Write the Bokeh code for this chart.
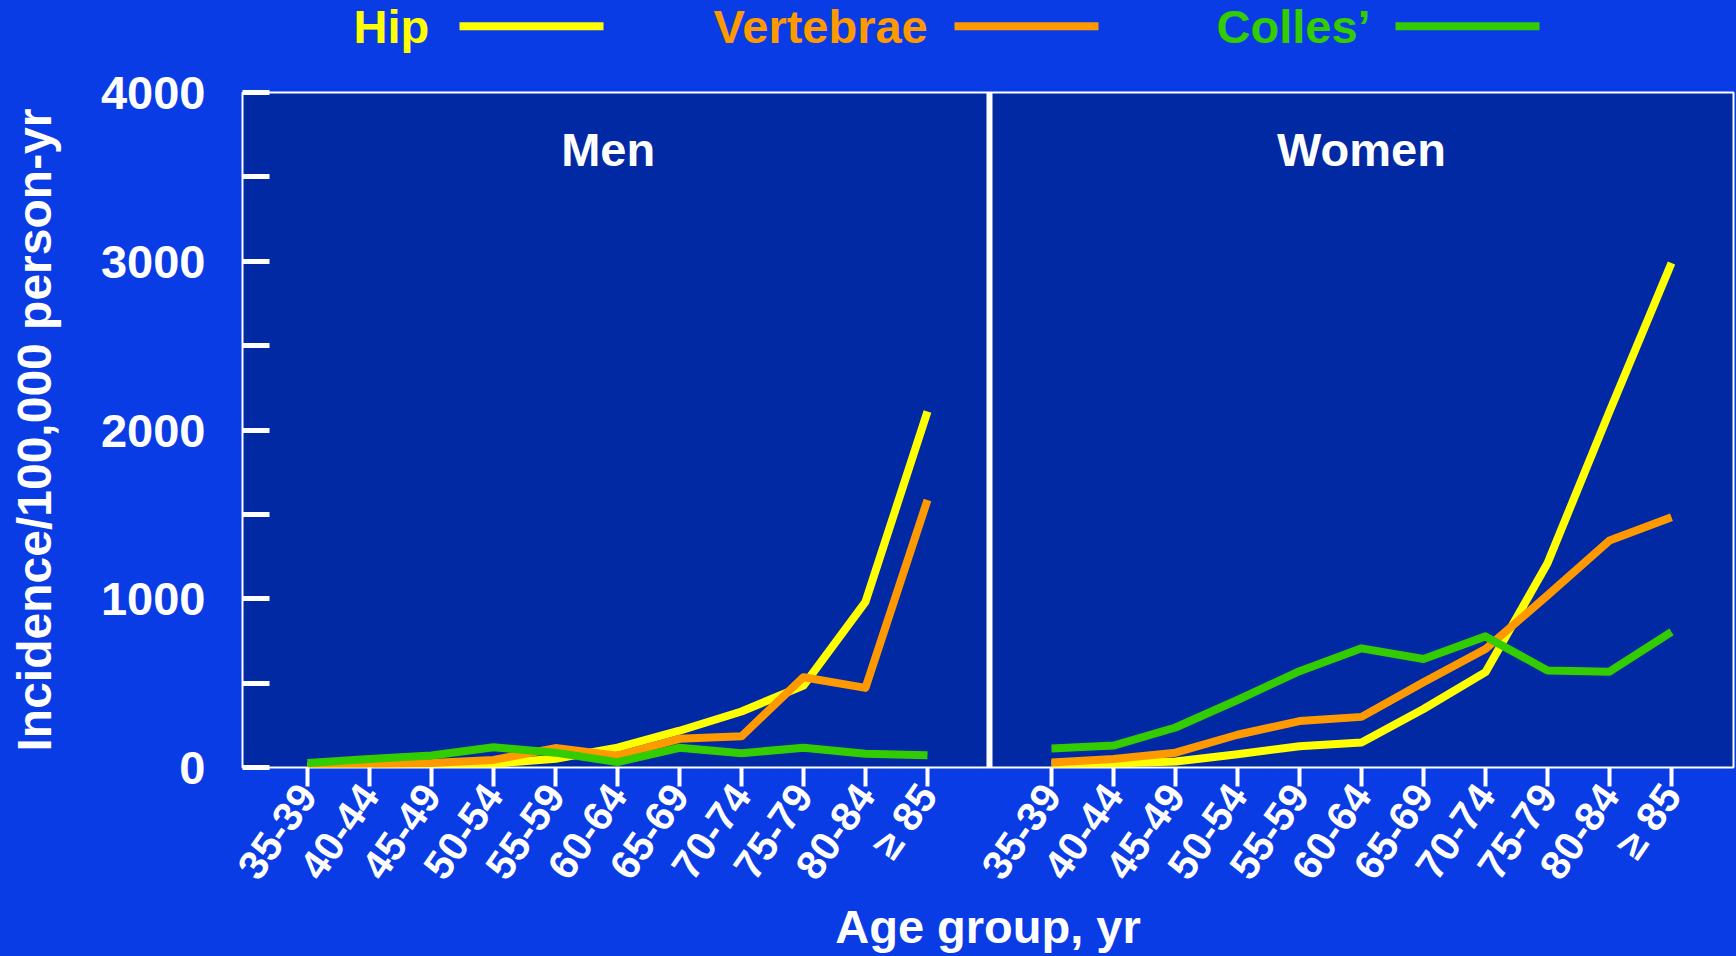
from bokeh.plotting import figure
from bokeh.models import Range1d, FixedTicker, Span, Label
from bokeh.layouts import column
from bokeh.core.properties import value
from bokeh.embed import file_html
from bokeh.resources import INLINE

# ---------------- data ----------------
ages = ["35-39", "40-44", "45-49", "50-54", "55-59", "60-64",
        "65-69", "70-74", "75-79", "80-84", "\u2265 85"]
series_names = ["Hip", "Vertebrae", "Colles\u2019"]

men_hip = [5, 8, 12, 22, 52, 118, 218, 332, 485, 982, 2110]
men_vertebrae = [10, 20, 26, 45, 115, 70, 170, 185, 535, 472, 1585]
men_colles = [26, 51, 71, 120, 88, 32, 117, 85, 117, 82, 72]

women_hip = [20, 24, 35, 78, 126, 148, 347, 565, 1210, 2110, 2990]
women_vertebrae = [29, 50, 88, 194, 275, 300, 505, 702, 1020, 1345, 1483]
women_colles = [113, 130, 237, 400, 571, 706, 643, 777, 575, 568, 804]

y_ticks = [0, 500, 1000, 1500, 2000, 2500, 3000, 3500, 4000]
y_labels = ["0", " ", "1000", " ", "2000", " ", "3000", " ", "4000"]

# ---------------- style ----------------
BG = "#0A3CE6"
PLOT_BG = "#0029A3"
COLORS = ["#FFFF00", "#FF9900", "#33CC00"]
FONT = value("Liberation Sans")
W = 1736
FRAME_L, FRAME_R = 242, 1733

# category positions: men panel 0..10, women panel 12..22, divider at 11
men_x = list(range(len(ages)))
women_x = [i + len(ages) + 1 for i in range(len(ages))]
divider_x = len(ages)

# ---------------- legend strip (frame is aligned with the chart frame) ----------------
LEG_H = 58
leg = figure(width=W, height=LEG_H, x_range=Range1d(FRAME_L, FRAME_R), y_range=Range1d(LEG_H, 0),
             x_axis_location=None, y_axis_location=None, toolbar_location=None,
             output_backend="svg", min_border=0,
             min_border_left=FRAME_L, min_border_right=W - FRAME_R)
leg.background_fill_color = BG
leg.border_fill_color = BG
leg.outline_line_color = None
leg.xgrid.visible = False
leg.ygrid.visible = False

leg_text_x = [353, 713, 1216]
leg_line_x0 = [459, 954, 1395]
leg_line_x1 = [603, 1098, 1539]
leg.text(x=leg_text_x, y=[25.5] * 3, text=series_names, text_color=COLORS,
         text_font=FONT, text_font_style="bold", text_font_size="47px",
         text_align="left", text_baseline="middle")
leg.segment(x0=leg_line_x0, y0=[25.7] * 3, x1=leg_line_x1, y1=[25.7] * 3,
            line_color=COLORS, line_width=8)

# ---------------- main chart ----------------
p = figure(width=W, height=956 - LEG_H, x_range=Range1d(-1.048, 23.0), y_range=Range1d(0, 4000),
           toolbar_location=None, output_backend="svg",
           min_border_left=FRAME_L, min_border_right=W - FRAME_R,
           min_border_top=92 - LEG_H, min_border_bottom=956 - 767)
p.background_fill_color = PLOT_BG
p.border_fill_color = BG
p.outline_line_color = "white"
p.outline_line_width = 2
p.xgrid.visible = False
p.ygrid.visible = False

for ys, c in zip([men_hip, men_vertebrae, men_colles], COLORS):
    p.line(men_x, ys, line_color=c, line_width=8, line_join="round")
for ys, c in zip([women_hip, women_vertebrae, women_colles], COLORS):
    p.line(women_x, ys, line_color=c, line_width=8, line_join="round")

p.add_layout(Span(location=divider_x, dimension="height", line_color="white", line_width=6))

# x axis
xa = p.xaxis[0]
xa.ticker = FixedTicker(ticks=men_x + women_x, minor_ticks=[])
overrides = {}
for i, a in enumerate(ages):
    overrides[men_x[i]] = a
    overrides[women_x[i]] = a
xa.major_label_overrides = overrides
xa.axis_line_color = None
xa.major_tick_in = 0
xa.major_tick_out = 19
xa.major_tick_line_color = "white"
xa.major_tick_line_width = 4
xa.minor_tick_line_color = None
xa.major_label_orientation = 0.96
xa.major_label_standoff = 2
xa.major_label_text_color = "white"
xa.major_label_text_font = "Liberation Sans"
xa.major_label_text_font_style = "bold"
xa.major_label_text_font_size = "41px"
xa.axis_label = "Age group, yr"
xa.axis_label_text_color = "white"
xa.axis_label_text_font = "Liberation Sans"
xa.axis_label_text_font_style = "bold"
xa.axis_label_text_font_size = "47px"
xa.axis_label_standoff = -4

# y axis
ya = p.yaxis[0]
ya.ticker = FixedTicker(ticks=y_ticks, minor_ticks=[])
ya.major_label_overrides = dict(zip(y_ticks, y_labels))
ya.axis_line_color = None
ya.major_tick_in = 27
ya.major_tick_out = 0
ya.major_tick_line_color = "white"
ya.major_tick_line_width = 5
ya.minor_tick_line_color = None
ya.major_label_standoff = 37
ya.major_label_text_color = "white"
ya.major_label_text_font = "Liberation Sans"
ya.major_label_text_font_style = "bold"
ya.major_label_text_font_size = "47px"
ya.axis_label = "Incidence/100,000 person-yr"
ya.axis_label_text_color = "white"
ya.axis_label_text_font = "Liberation Sans"
ya.axis_label_text_font_style = "bold"
ya.axis_label_text_font_size = "48px"
ya.axis_label_standoff = 37

# panel titles
for tx, tt in [(4.85, "Men"), (17.0, "Women")]:
    p.add_layout(Label(x=tx, y=3662, text=tt, text_color="white",
                       text_font="Liberation Sans", text_font_style="bold",
                       text_font_size="47px", text_align="center",
                       text_baseline="middle"))

layout = column(leg, p, spacing=0)
layout.background = BG

open("out.html", "w").write(file_html(layout, INLINE))
